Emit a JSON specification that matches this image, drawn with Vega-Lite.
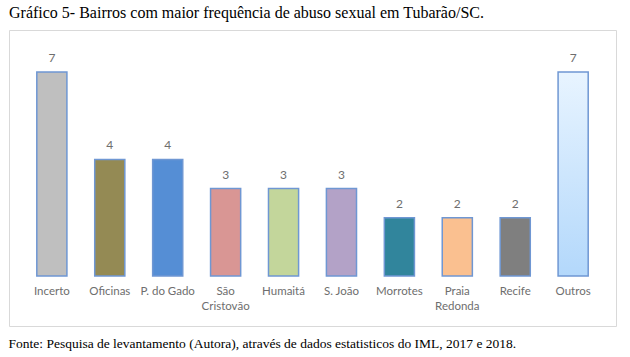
{
  "$schema": "https://vega.github.io/schema/vega-lite/v6.json",
  "autosize": "none",
  "width": 607,
  "height": 296,
  "padding": {"left": 9, "top": 30, "right": 14, "bottom": 31},
  "background": "white",
  "config": {"view": {"stroke": "#d9d9d9", "strokeWidth": 1}},
  "title": {
    "text": "Gráfico 5- Bairros com maior frequência de abuso sexual em Tubarão/SC.",
    "anchor": "start",
    "frame": "group",
    "font": "Liberation Serif",
    "fontSize": 16,
    "fontWeight": "normal",
    "color": "#000000",
    "offset": 9
  },
  "data": {
    "values": [
      {"bairro": "Incerto", "casos": 7},
      {"bairro": "Oficinas", "casos": 4},
      {"bairro": "P. do Gado", "casos": 4},
      {"bairro": "São Cristovão", "casos": 3},
      {"bairro": "Humaitá", "casos": 3},
      {"bairro": "S. João", "casos": 3},
      {"bairro": "Morrotes", "casos": 2},
      {"bairro": "Praia Redonda", "casos": 2},
      {"bairro": "Recife", "casos": 2},
      {"bairro": "Outros", "casos": 7}
    ]
  },
  "encoding": {
    "x": {
      "field": "bairro",
      "type": "nominal",
      "sort": null,
      "scale": {"paddingInner": 0.48, "paddingOuter": 0.48},
      "axis": {
        "orient": "bottom",
        "offset": -50,
        "domain": false,
        "ticks": false,
        "grid": false,
        "labelAngle": 0,
        "labelFont": "Lato",
        "labelFontSize": 11.5,
        "labelColor": "#6e6e6e",
        "labelPadding": 9,
        "labelLineHeight": 15,
        "labelExpr": "(datum.label == 'São Cristovão' || datum.label == 'Praia Redonda') ? split(datum.label, ' ') : datum.label",
        "title": "Fonte: Pesquisa de levantamento (Autora), através de dados estatisticos do IML, 2017 e 2018.",
        "titleFont": "Liberation Serif",
        "titleFontSize": 13.5,
        "titleFontWeight": "normal",
        "titleColor": "#000000",
        "titleAnchor": "start",
        "titleAlign": "left",
        "titleBaseline": "middle",
        "titleX": -1,
        "titleY": 67
      }
    },
    "y": {
      "field": "casos",
      "type": "quantitative",
      "scale": {"domain": [-1.716, 8.442], "nice": false, "zero": false},
      "axis": null
    }
  },
  "layer": [
    {
      "transform": [{"filter": "datum.bairro != 'Outros'"}],
      "mark": {"type": "bar", "stroke": "#6f97d3", "strokeWidth": 1.5},
      "encoding": {
        "color": {
          "field": "bairro",
          "type": "nominal",
          "legend": null,
          "scale": {
            "domain": ["Incerto", "Oficinas", "P. do Gado", "São Cristovão", "Humaitá", "S. João", "Morrotes", "Praia Redonda", "Recife"],
            "range": ["#bfbfbf", "#948a54", "#558ed5", "#d99694", "#c3d69b", "#b3a2c7", "#31859c", "#fac090", "#7f7f7f"]
          }
        }
      }
    },
    {
      "transform": [{"filter": "datum.bairro == 'Outros'"}],
      "mark": {
        "type": "bar",
        "stroke": "#6f97d3",
        "strokeWidth": 1.5,
        "fill": {
          "gradient": "linear",
          "x1": 0, "y1": 0, "x2": 0, "y2": 1,
          "stops": [
            {"offset": 0, "color": "#e8f4ff"},
            {"offset": 1, "color": "#b3d8fb"}
          ]
        }
      }
    },
    {
      "mark": {"type": "text", "baseline": "bottom", "dy": -7, "font": "Lato", "fontSize": 12, "color": "#6e6e6e"},
      "encoding": {"text": {"field": "casos", "type": "quantitative"}}
    }
  ]
}
